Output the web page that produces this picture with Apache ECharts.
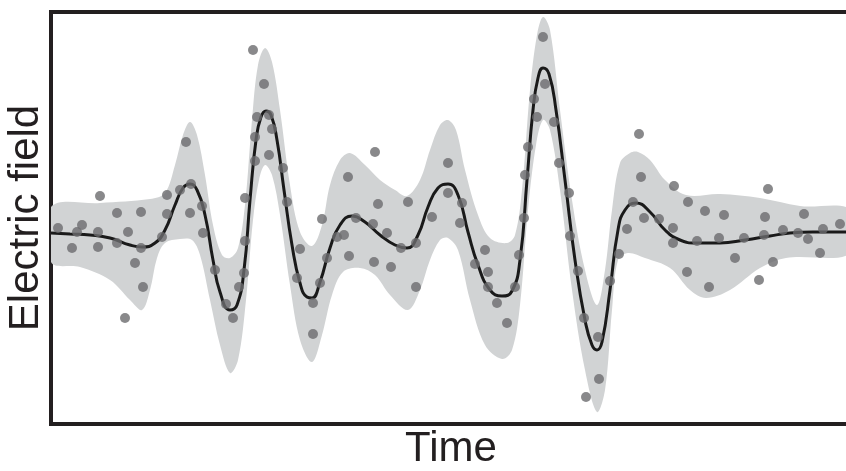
<!DOCTYPE html>
<html>
<head>
<meta charset="utf-8">
<script src="https://cdn.jsdelivr.net/npm/echarts@6/dist/echarts.min.js"></script>
<style>
    html, body { margin: 0; padding: 0; background: #fff; }
    #chart { width: 846px; height: 471px; }
</style>
</head>
<body>
<div id="chart"></div>
<script>
// time (arbitrary units) and electric field (arbitrary units)
var fitTime = [0, 19, 39, 59, 79, 91, 104, 114, 124, 132, 139, 146, 154, 162, 169, 179, 186, 193, 199, 205,
    210, 215, 220, 226, 233, 241, 249, 256, 261, 269, 279, 289, 301, 314, 329, 344, 356, 367, 377, 387,
    397, 407, 417, 427, 439, 451, 461, 469, 476, 482, 487, 492, 498, 505, 514, 524, 534, 541, 546, 551,
    559, 567, 574, 585, 599, 614, 629, 645, 669, 694, 719, 739, 762, 800];
var fitMean = [-1, -2, -3, -6, -13, -15, -11, 2, 27, 44, 48, 42, 17, -28, -60, -78, -73, -38, 32, 92,
    115, 121, 117, 92, 42, -13, -51, -65, -66, -50, -16, 7, 16, 10, -3, -13, -16, -3, 25, 44,
    48, 37, 0, -33, -58, -64, -59, -28, 52, 122, 154, 164, 158, 122, 52, -28, -88, -113, -118, -110,
    -58, 2, 22, 29, 20, 2, -8, -11, -11, -8, -4, -1, 0, 0];

var upperTime = [0, 49, 99, 114, 124, 132, 139, 146, 154, 162, 171, 179, 187, 194, 201, 207, 214, 221, 229, 239,
    249, 261, 271, 279, 289, 299, 314, 329, 344, 356, 369, 379, 389, 397, 405, 414, 427, 439, 456, 464,
    471, 479, 486, 492, 499, 509, 521, 534, 546, 554, 561, 569, 579, 587, 599, 614, 635, 669, 709, 749, 800];
var upperField = [25, 29, 33, 39, 67, 97, 110, 97, 57, 7, -23, -26, -16, 27, 112, 167, 184, 170, 122, 47,
    0, -14, 7, 47, 72, 79, 67, 52, 42, 36, 52, 82, 107, 112, 102, 62, 17, -6, -11, -3,
    42, 142, 197, 215, 202, 122, 32, -38, -73, -38, 22, 69, 79, 80, 72, 52, 37, 38, 34, 26, 22];

var lowerTime = [0, 29, 59, 79, 91, 99, 106, 114, 129, 141, 149, 159, 169, 179, 187, 195, 202, 208, 214, 221,
    229, 239, 249, 261, 271, 281, 292, 309, 324, 339, 357, 369, 379, 389, 397, 407, 419, 434, 451, 461,
    469, 477, 485, 492, 499, 509, 521, 534, 546, 554, 561, 567, 577, 594, 619, 639, 655, 679, 709, 735, 800];
var lowerField = [-30, -35, -48, -68, -78, -58, -26, -11, -7, -8, -23, -68, -113, -141, -128, -68, 12, 52, 67, 57,
    17, -53, -108, -130, -103, -63, -40, -36, -43, -63, -78, -58, -28, -8, -6, -18, -68, -113, -127, -118,
    -73, 22, 87, 112, 102, 42, -58, -138, -180, -158, -78, -28, -21, -26, -36, -58, -66, -58, -36, -26, -21];

var obsTime = [7, 21, 26, 31, 47, 47, 49, 66, 66, 74, 77, 84, 90, 90, 92, 111, 116, 116, 129, 135,
    140, 139, 151, 152, 164, 175, 182, 188, 193, 194, 194, 202, 204, 204, 206, 213, 218, 221, 218, 232,
    236, 246, 249, 262, 262, 269, 276, 271, 286, 293, 297, 298, 305, 324, 327, 322, 336, 323, 340, 350,
    357, 365, 365, 381, 397, 397, 411, 409, 424, 434, 437, 437, 446, 456, 464, 468, 473, 474, 477, 483,
    486, 494, 492, 503, 508, 518, 519, 527, 533, 547, 548, 535, 559, 568, 576, 582, 590, 588, 593, 608,
    623, 622, 622, 637, 636, 646, 654, 658, 668, 673, 684, 693, 708, 714, 717, 713, 722, 732, 747, 753,
    757, 769, 772, 789];
var obsField = [4, -16, 0, 7, 0, -15, 36, 19, -11, -86, 0, -31, 20, -16, -55, -5, 18, 37, 42, 90,
    48, 19, 26, -1, -38, -72, -86, -55, -41, -9, 34, 182, 71, 95, 115, 148, 117, 103, 77, 64,
    30, -46, -17, -71, -102, -51, -26, 13, -5, -3, 55, -24, 14, 80, 28, 8, -1, -30, -35, -16,
    30, -11, -55, 15, 69, 39, 29, 9, -32, -18, -40, -55, -71, -91, -55, -23, 14, 57, 85, 133,
    115, 148, 195, 110, 69, 39, -4, -39, -86, -105, -147, -165, -49, -22, 3, 30, 55, 98, 14, 13,
    46, 4, -11, 30, -40, -9, 21, -55, -6, 17, -26, -6, -48, 15, 43, -3, -30, 2, -1, 18,
    -7, -21, 3, 8];

var zip = function (xs, ys) {
    return xs.map(function (x, i) { return [x, ys[i]]; });
};

var chart = echarts.init(document.getElementById('chart'));

var bandPoints = zip(upperTime, upperField).concat(zip(lowerTime, lowerField).reverse());

var option = {
    animation: false,
    grid: {
        left: 51,
        top: 12,
        right: -5,
        bottom: 47,
        outerBoundsMode: 'none',
        containLabel: false,
        show: true,
        borderColor: '#231f20',
        borderWidth: 4,
        backgroundColor: 'transparent'
    },
    xAxis: {
        type: 'value',
        min: 0,
        max: 800,
        name: 'Time',
        nameLocation: 'middle',
        nameGap: 4,
        nameTextStyle: {
            fontFamily: 'Liberation Sans',
            fontSize: 42,
            color: '#231f20'
        },
        axisLine: { show: false },
        axisTick: { show: false },
        axisLabel: { show: false },
        splitLine: { show: false }
    },
    yAxis: {
        type: 'value',
        min: -192,
        max: 220,
        name: 'Electric field',
        nameLocation: 'middle',
        nameGap: 4,
        nameTextStyle: {
            fontFamily: 'Liberation Sans',
            fontSize: 42,
            color: '#231f20'
        },
        axisLine: { show: false },
        axisTick: { show: false },
        axisLabel: { show: false },
        splitLine: { show: false }
    },
    series: [
        {
            type: 'custom',
            name: 'band',
            z: 1,
            clip: true,
            silent: true,
            data: [0],
            renderItem: function (params, api) {
                var pts = bandPoints.map(function (p) { return api.coord(p); });
                return {
                    type: 'polygon',
                    shape: { points: pts, smooth: 0.35 },
                    style: { fill: '#d1d3d4', stroke: null }
                };
            }
        },
        {
            type: 'line',
            name: 'fit',
            z: 3,
            data: zip(fitTime, fitMean),
            smooth: true,
            showSymbol: false,
            lineStyle: { color: '#1a1a1a', width: 3 }
        },
        {
            type: 'scatter',
            name: 'observed',
            z: 4,
            data: zip(obsTime, obsField),
            symbolSize: 10,
            itemStyle: { color: '#6b6c6e' }
        }
    ]
};

chart.setOption(option);
</script>
</body>
</html>
